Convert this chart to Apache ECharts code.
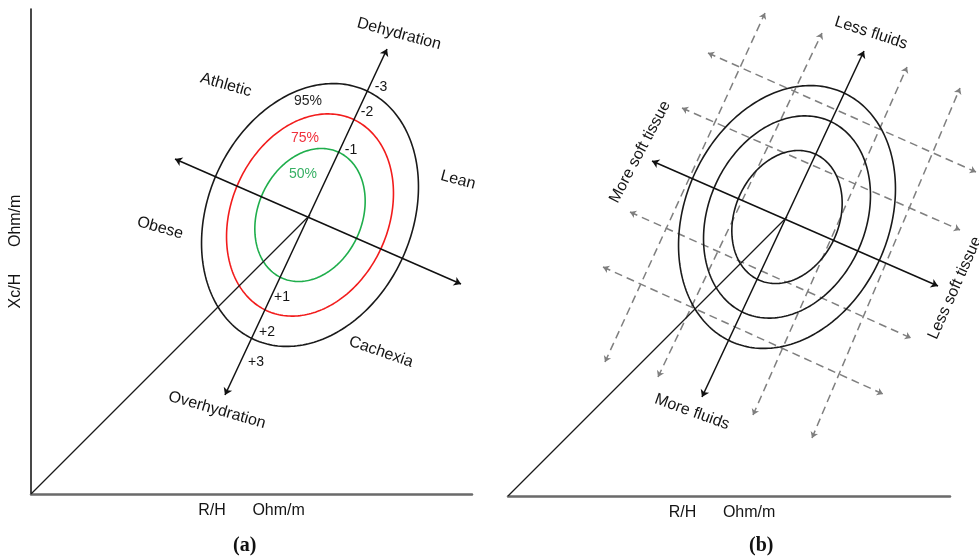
<!DOCTYPE html>
<html>
<head>
<meta charset="utf-8">
<script src="https://cdn.jsdelivr.net/npm/echarts@6/dist/echarts.min.js"></script>
<style>
  html, body { margin: 0; padding: 0; background: #fff; }
  #chart { width: 979px; height: 559px; }
</style>
</head>
<body>
<div id="chart"></div>
<script>
// Bioimpedance vector plane (R/H vs Xc/H): tolerance ellipses and interpretation axes.
// Both panels share the same plane; units are Ohm/m on each axis.

// Tolerance ellipses (centre, semi-axes, tilt of the major axis from the R/H axis)
const ellipseCenter = [279, 279];
const ellipseLevels = ['95%', '75%', '50%'];
const ellipseSemiMajor = [136.5, 105, 69];
const ellipseSemiMinor = [102, 78.5, 52];
const ellipseTiltDeg = 66;

// Interpretation axes through the centre (end points)
const hydrationAxis = [[194, 99], [356, 445]];
const tissueAxis = [[144, 335], [430, 210]];

// Panel (a): z-score tick labels along the hydration axis
const zScoreLabels = ['-3', '-2', '-1', '+1', '+2', '+3'];
const zScoreAnchors = [[350, 407], [336, 382], [320, 344], [251, 197], [236, 162], [225, 132]];

// Panel (a): region names
const regionNamesA = ['Dehydration', 'Athletic', 'Lean', 'Obese', 'Cachexia', 'Overhydration'];
const regionAnchorsA = [[368, 460], [195, 409], [427, 314], [129, 266], [350, 142], [186, 84]];
const regionTiltA = [-15, -16, -15, -16, -19, -16];

// Panel (a): percentile labels of the ellipses
const levelAnchors = [[277, 393], [274, 356], [272, 320]];

// Panel (b): direction names
const directionNamesB = ['Less fluids', 'More soft tissue', 'Less soft tissue', 'More fluids'];
const directionAnchorsB = [[363, 463], [132, 344], [447, 208], [184, 84]];
const directionTiltB = [-18, 62, 66, -20];

// Panel (b): dashed shift vectors (parallel to both axes)
const fluidShifts = [
  [[97, 134], [257, 483]],
  [[150, 119], [314, 463]],
  [[245, 81], [399, 429]],
  [[304, 58], [452, 408]]
];
const tissueShifts = [
  [[200, 443], [468, 324]],
  [[174, 388], [452, 266]],
  [[122, 284], [403, 158]],
  [[95, 229], [375, 102]]
];

const FONT = '"Liberation Sans", Arial, sans-serif';
const TEXT = '#141414';
const ellipseColorsA = ['#1a1a1a', '#f21c1c', '#1fae4c'];
const ellipseColorsB = ['#1a1a1a', '#1a1a1a', '#1a1a1a'];
const levelColors = ['#262626', '#f0303c', '#37b064'];

function ellipseSeries(axisIdx, colors) {
  return {
    type: 'custom',
    xAxisIndex: axisIdx, yAxisIndex: axisIdx,
    silent: true, animation: false,
    data: ellipseLevels.map((_, i) => [ellipseCenter[0], ellipseCenter[1], ellipseSemiMajor[i], ellipseSemiMinor[i]]),
    renderItem(params, api) {
      const cx = api.value(0), cy = api.value(1), a = api.value(2), b = api.value(3);
      const t = ellipseTiltDeg * Math.PI / 180;
      const pts = [];
      for (let k = 0; k < 240; k++) {
        const s = k / 240 * 2 * Math.PI;
        const u = a * Math.cos(s), v = b * Math.sin(s);
        pts.push(api.coord([cx + u * Math.cos(t) - v * Math.sin(t), cy + u * Math.sin(t) + v * Math.cos(t)]));
      }
      return {
        type: 'polygon',
        shape: { points: pts },
        style: { fill: 'none', stroke: colors[params.dataIndex], lineWidth: 1.6 }
      };
    }
  };
}

function axesArrows(axisIdx) {
  return {
    type: 'lines', coordinateSystem: 'cartesian2d',
    xAxisIndex: axisIdx, yAxisIndex: axisIdx,
    silent: true, animation: false, clip: false,
    symbol: ['arrow', 'arrow'], symbolSize: 7,
    lineStyle: { color: '#111', width: 1.5, opacity: 1, curveness: 0 },
    data: [{ coords: hydrationAxis }, { coords: tissueAxis }]
  };
}

function originRay(axisIdx) {
  return {
    type: 'line', xAxisIndex: axisIdx, yAxisIndex: axisIdx,
    silent: true, animation: false, showSymbol: false,
    lineStyle: { color: '#1a1a1a', width: 1.3 },
    data: [[0, 0], ellipseCenter]
  };
}

function textSeries(axisIdx, names, anchors, tilts, size, colors) {
  return {
    type: 'scatter', xAxisIndex: axisIdx, yAxisIndex: axisIdx,
    silent: true, animation: false, clip: false,
    symbolSize: 1, itemStyle: { color: 'rgba(0,0,0,0)' },
    data: names.map((n, i) => ({
      name: n,
      value: anchors[i],
      label: {
        rotate: tilts ? tilts[i] : 0,
        color: colors ? colors[i] : TEXT
      }
    })),
    label: {
      show: true, position: 'inside', formatter: '{b}',
      fontFamily: FONT, fontSize: size, color: TEXT,
      textBorderWidth: 0, opacity: 1
    }
  };
}

const hiddenAxisParts = {
  axisTick: { show: false }, axisLabel: { show: false }, splitLine: { show: false }
};

const option = {
  backgroundColor: '#ffffff',
  animation: false,
  grid: [
    { left: 31, top: 9, width: 441, height: 485 },
    { left: 508, top: 11, width: 442, height: 485 }
  ],
  xAxis: [
    Object.assign({
      type: 'value', gridIndex: 0, min: 0, max: 441,
      name: 'R/H      Ohm/m', nameLocation: 'middle', nameGap: 9,
      nameTextStyle: { fontFamily: FONT, fontSize: 16, color: TEXT },
      axisLine: { show: true, lineStyle: { color: '#6a6a6a', width: 2.5 } }
    }, hiddenAxisParts),
    Object.assign({
      type: 'value', gridIndex: 1, min: 0, max: 442,
      name: 'R/H      Ohm/m', nameLocation: 'middle', nameGap: 9,
      nameTextStyle: { fontFamily: FONT, fontSize: 16, color: TEXT, padding: [0, 14, 0, 0] },
      axisLine: { show: true, lineStyle: { color: '#6a6a6a', width: 2.5 } }
    }, hiddenAxisParts)
  ],
  yAxis: [
    Object.assign({
      type: 'value', gridIndex: 0, min: 0, max: 485,
      name: 'Xc/H      Ohm/m', nameLocation: 'middle', nameGap: 7,
      nameTextStyle: { fontFamily: FONT, fontSize: 16, color: TEXT },
      axisLine: { show: true, lineStyle: { color: '#1a1a1a', width: 1.6 } }
    }, hiddenAxisParts),
    Object.assign({
      type: 'value', gridIndex: 1, min: 0, max: 485,
      axisLine: { show: false }
    }, hiddenAxisParts)
  ],
  series: [
    // panel (a)
    originRay(0),
    ellipseSeries(0, ellipseColorsA),
    axesArrows(0),
    textSeries(0, regionNamesA, regionAnchorsA, regionTiltA, 16),
    textSeries(0, ellipseLevels, levelAnchors, null, 14, levelColors),
    textSeries(0, zScoreLabels, zScoreAnchors, null, 14),
    // panel (b)
    {
      type: 'lines', coordinateSystem: 'cartesian2d', xAxisIndex: 1, yAxisIndex: 1,
      silent: true, animation: false, clip: false,
      symbol: ['arrow', 'arrow'], symbolSize: 6,
      lineStyle: { color: '#7f7f7f', width: 1.5, type: [8, 5], opacity: 1 },
      data: fluidShifts.concat(tissueShifts).map(c => ({ coords: c }))
    },
    originRay(1),
    ellipseSeries(1, ellipseColorsB),
    axesArrows(1),
    textSeries(1, directionNamesB, directionAnchorsB, directionTiltB, 16)
  ],
  graphic: [
    { type: 'text', left: 233, top: 536, style: { text: '(a)', font: 'bold 20px "Liberation Serif", "Times New Roman", serif', fill: '#111' } },
    { type: 'text', left: 749, top: 536, style: { text: '(b)', font: 'bold 20px "Liberation Serif", "Times New Roman", serif', fill: '#111' } }
  ]
};

const chart = echarts.init(document.getElementById('chart'), null, { renderer: 'canvas' });
chart.setOption(option);
</script>
</body>
</html>
